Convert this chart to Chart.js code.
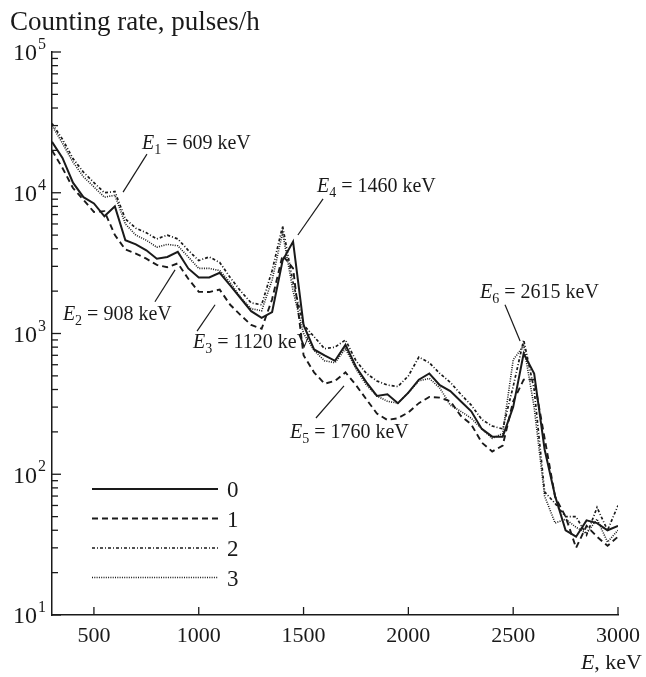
<!DOCTYPE html>
<html>
<head>
<meta charset="utf-8">
<script src="https://cdn.jsdelivr.net/npm/chart.js@4.4.0/dist/chart.umd.min.js"></script>
<style>
  html, body { margin: 0; padding: 0; background: #fff; }
  #wrap { width: 646px; height: 677px; }
</style>
</head>
<body>
<div id="wrap"><canvas id="chart" width="646" height="677"></canvas></div>
<script>
// Energia (keV) e taxas de contagem
const energies = [300, 350, 400, 450, 500, 550, 600, 650, 700, 750, 800, 850, 900, 950,
  1000, 1050, 1100, 1150, 1200, 1250, 1300, 1350, 1400, 1450, 1500, 1550, 1600, 1650,
  1700, 1750, 1800, 1850, 1900, 1950, 2000, 2050, 2100, 2150, 2200, 2250, 2300, 2350,
  2400, 2450, 2500, 2550, 2600, 2650, 2700, 2750, 2800, 2850, 2900, 2950, 3000];

const counts0 = [23000, 17700, 11800, 9300, 8400, 6800, 8000, 4600, 4300, 3900, 3400, 3500, 3800, 2900,
  2500, 2500, 2700, 2200, 1780, 1440, 1290, 1420, 3300, 4500, 1150, 770, 700, 640,
  830, 580, 450, 360, 370, 320, 380, 470, 520, 430, 390, 330, 280, 210,
  185, 185, 300, 720, 520, 150, 70, 40, 36, 47, 45, 40, 43];

const counts1 = [20000, 15000, 10800, 8900, 7300, 7400, 5000, 3950, 3700, 3400, 3070, 2960, 3150, 2450,
  1980, 1970, 2050, 1600, 1350, 1150, 1080, 1750, 3600, 2900, 700, 530, 440, 460,
  530, 430, 340, 270, 243, 250, 275, 320, 354, 350, 330, 260, 226, 168,
  145, 160, 330, 470, 470, 180, 69, 50, 30, 43, 36, 31, 36];

const counts2 = [31000, 24000, 17500, 14000, 11800, 10000, 10200, 6500, 5600, 5200, 4700, 5000, 4700, 3900,
  3300, 3500, 3200, 2500, 2000, 1650, 1600, 2800, 5800, 2300, 1150, 950, 780, 800,
  900, 640, 520, 460, 430, 420, 500, 680, 620, 520, 450, 370, 310, 245,
  220, 210, 420, 900, 400, 75, 62, 50, 50, 37, 58, 40, 60];

const counts3 = [30000, 22500, 16500, 13000, 11000, 9300, 9600, 6000, 5000, 4600, 4100, 4300, 4200, 3500,
  2900, 2900, 2800, 2300, 1800, 1500, 1450, 2400, 5200, 2000, 1000, 760, 640, 620,
  780, 560, 430, 360, 330, 320, 380, 460, 480, 410, 310, 280, 250, 210,
  180, 195, 650, 820, 300, 70, 45, 48, 42, 38, 48, 33, 40];

const seriesLabels = ["0", "1", "2", "3"];
const xTicks = [500, 1000, 1500, 2000, 2500, 3000];
const yDecades = [1, 2, 3, 4, 5];

// Rótulos das linhas (E_i), com pontos em unidades de dados
const notes = [
  { sub: "1", text: " = 609 keV", at: [729, 20500], from: [753, 18800], to: [639, 10100] },
  { sub: "2", text: " = 908 keV", at: [352, 1250], from: [791, 1680], to: [887, 2830] },
  { sub: "3", text: " = 1120 keV", at: [973, 789], from: [992, 1040], to: [1078, 1600] },
  { sub: "4", text: " = 1460 keV", at: [1564, 10100], from: [1593, 9040], to: [1473, 5010] },
  { sub: "5", text: " = 1760 keV", at: [1435, 181], from: [1559, 251], to: [1693, 424] },
  { sub: "6", text: " = 2615 keV", at: [2342, 1790], from: [2461, 1600], to: [2533, 885] },
];

const INK = "#1a1a1a";
const SERIF = "'Liberation Serif', 'DejaVu Serif', serif";
const styles = [
  { width: 2.0, dash: [] },
  { width: 1.9, dash: [6, 4] },
  { width: 1.7, dash: [3, 2, 1, 2] },
  { width: 1.6, dash: [1, 1.3] },
];

function toPoints(vals) {
  return energies.map((e, i) => ({ x: e, y: vals[i] }));
}

const allCounts = [counts0, counts1, counts2, counts3];
const datasets = allCounts.map((vals, i) => ({
  label: seriesLabels[i],
  data: toPoints(vals),
  borderColor: INK,
  borderWidth: styles[i].width,
  borderDash: styles[i].dash,
  pointRadius: 0,
  tension: 0,
  fill: false,
}));

function seg(ctx, x1, y1, x2, y2) {
  ctx.beginPath();
  ctx.moveTo(x1, y1);
  ctx.lineTo(x2, y2);
  ctx.stroke();
}

// Desenha ticks internos, rótulos, legenda e anotações
const decor = {
  id: "decor",
  afterDraw(chart) {
    const { ctx, chartArea: a } = chart;
    const x = chart.scales.x;
    const y = chart.scales.y;
    ctx.save();
    ctx.strokeStyle = INK;
    ctx.fillStyle = INK;
    ctx.lineWidth = 1.3;
    ctx.setLineDash([]);

    // eixo x
    ctx.font = "22px " + SERIF;
    ctx.textAlign = "center";
    ctx.textBaseline = "top";
    xTicks.forEach((v) => {
      const px = x.getPixelForValue(v);
      seg(ctx, px, a.bottom, px, a.bottom - 8);
      ctx.fillText(String(v), px, a.bottom + 10);
    });

    // eixo y (log)
    yDecades.forEach((d) => {
      const base = Math.pow(10, d);
      const py = y.getPixelForValue(base);
      seg(ctx, a.left, py, a.left + 9, py);
      if (d < 5) {
        for (let m = 2; m <= 9; m++) {
          const pm = y.getPixelForValue(base * m);
          seg(ctx, a.left, pm, a.left + 6, pm);
        }
      }
      ctx.textAlign = "right";
      ctx.textBaseline = "middle";
      ctx.font = "24px " + SERIF;
      ctx.fillText("10", 37, py + 2);
      ctx.textAlign = "left";
      ctx.textBaseline = "alphabetic";
      ctx.font = "16px " + SERIF;
      ctx.fillText(String(d), 38, py - 3);
    });

    // título do eixo y
    ctx.textAlign = "left";
    ctx.textBaseline = "alphabetic";
    ctx.font = "27px " + SERIF;
    ctx.fillText("Counting rate, pulses/h", 10, 30);

    // título do eixo x
    ctx.font = "22px " + SERIF;
    const rest = ", keV";
    const wRest = ctx.measureText(rest).width;
    ctx.fillText(rest, 642 - wRest, 669);
    ctx.font = "italic 22px " + SERIF;
    const wE = ctx.measureText("E").width;
    ctx.fillText("E", 642 - wRest - wE, 669);

    // anotações
    ctx.lineWidth = 1.2;
    notes.forEach((n) => {
      seg(ctx, x.getPixelForValue(n.from[0]), y.getPixelForValue(n.from[1]),
        x.getPixelForValue(n.to[0]), y.getPixelForValue(n.to[1]));
      let tx = x.getPixelForValue(n.at[0]);
      const ty = y.getPixelForValue(n.at[1]);
      ctx.font = "italic 20px " + SERIF;
      ctx.fillText("E", tx, ty);
      tx += ctx.measureText("E").width;
      ctx.font = "14px " + SERIF;
      ctx.fillText(n.sub, tx, ty + 5);
      tx += ctx.measureText(n.sub).width;
      ctx.font = "20px " + SERIF;
      ctx.fillText(n.text, tx, ty);
    });

    // legenda
    const lx0 = a.left + 40;
    const lx1 = a.left + 166;
    chart.data.datasets.forEach((ds, i) => {
      const ly = a.bottom - 126 + i * 29.5;
      ctx.lineWidth = ds.borderWidth;
      ctx.setLineDash(ds.borderDash);
      seg(ctx, lx0, ly, lx1, ly);
      ctx.setLineDash([]);
      ctx.font = "23px " + SERIF;
      ctx.textAlign = "left";
      ctx.textBaseline = "middle";
      ctx.fillText(ds.label, lx1 + 9, ly + 2);
    });
    ctx.restore();
  },
};

new Chart(document.getElementById("chart").getContext("2d"), {
  type: "line",
  data: { datasets },
  options: {
    responsive: false,
    animation: false,
    layout: { padding: { left: 52, top: 52, right: 28, bottom: 62 } },
    plugins: { legend: { display: false }, tooltip: { enabled: false } },
    scales: {
      x: {
        type: "linear",
        min: 300,
        max: 3000,
        grid: { display: false, drawTicks: false },
        border: { display: true, color: INK, width: 1.5 },
        ticks: { display: false },
      },
      y: {
        type: "logarithmic",
        min: 10,
        max: 100000,
        grid: { display: false, drawTicks: false },
        border: { display: true, color: INK, width: 1.5 },
        ticks: { display: false },
      },
    },
  },
  plugins: [decor],
});
</script>
</body>
</html>
